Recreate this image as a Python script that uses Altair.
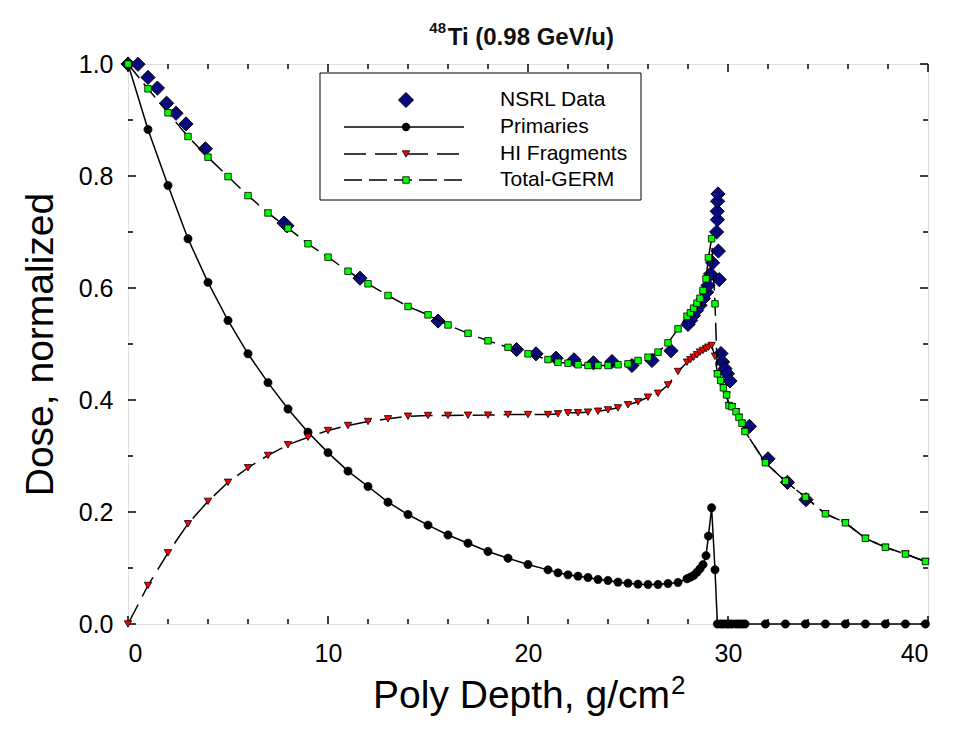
import altair as alt
import pandas as pd

# ---------------- data ----------------
depth_model = [0, 1, 2, 3, 4, 5, 6, 7, 8, 9, 10, 11, 12, 13, 14, 15, 16, 17, 18, 19, 20,
               21, 21.5, 22, 22.5, 23, 23.5, 24, 24.5, 25, 25.5, 26, 26.5, 27, 27.5,
               27.95, 28.12, 28.28, 28.45, 28.6, 28.75, 28.9, 29.02, 29.18, 29.35,
               29.47, 29.63, 29.77, 29.93, 30.05, 30.2, 30.4, 30.55, 30.7, 30.85,
               31.87, 32.87, 33.87, 34.87, 35.87, 36.87, 37.87, 38.87, 39.87]

dose_primaries = [1.0, 0.883, 0.783, 0.688, 0.61, 0.542, 0.4825, 0.431, 0.384, 0.3425, 0.306,
                  0.273, 0.2455, 0.2175, 0.1955, 0.1765, 0.159, 0.1443, 0.1295, 0.1175, 0.1063,
                  0.0967, 0.0914, 0.0878, 0.0854, 0.083, 0.0795, 0.0777, 0.0747, 0.0729, 0.0711,
                  0.0705, 0.0705, 0.0723, 0.0741,
                  0.0807, 0.0836, 0.0866, 0.0925, 0.0986, 0.106, 0.122, 0.157, 0.2075, 0.0968,
                  0, 0, 0, 0, 0, 0, 0, 0, 0, 0,
                  0, 0, 0, 0, 0, 0, 0, 0, 0]

dose_hi = [0, 0.0688, 0.127, 0.179, 0.219, 0.253, 0.279, 0.301, 0.32, 0.3336, 0.3455,
           0.3545, 0.3616, 0.3664, 0.371, 0.3723, 0.3725, 0.3728, 0.373, 0.374, 0.374,
           0.374, 0.3753, 0.3771, 0.3771, 0.3783, 0.38, 0.3824, 0.386, 0.3914, 0.397,
           0.405, 0.412, 0.4268, 0.4509,
           0.4675, 0.4718, 0.4764, 0.4807, 0.4854, 0.4884, 0.4914, 0.4943, 0.4973, 0.478,
           0.4468, 0.435, 0.4218, 0.409, 0.39, 0.388, 0.379, 0.369, 0.3586, 0.3437,
           0.288, 0.255, 0.2265, 0.1968, 0.1807, 0.153, 0.137, 0.125, 0.1116]

dose_total = [1.0, 0.9557, 0.9129, 0.8705, 0.8336, 0.799, 0.765, 0.734, 0.7068, 0.679, 0.655,
              0.63, 0.6075, 0.5866, 0.567, 0.552, 0.534, 0.519, 0.5057, 0.494, 0.4825,
              0.4723, 0.4675, 0.4657, 0.463, 0.4616, 0.4616, 0.4616, 0.463, 0.4646, 0.4705,
              0.4764, 0.4854, 0.502, 0.527,
              0.5496, 0.5557, 0.564, 0.5729, 0.5818, 0.5955, 0.6164, 0.654, 0.688, 0.5718,
              0.4468, 0.435, 0.4218, 0.409, 0.39, 0.388, 0.379, 0.369, 0.3586, 0.3437,
              0.288, 0.255, 0.2265, 0.1968, 0.1807, 0.153, 0.137, 0.125, 0.1116]

depth_nsrl = [0, 0.5, 1.0, 1.47, 1.93, 2.4, 2.9, 3.87, 7.8, 7.95, 11.6, 15.5, 19.43, 20.4,
              21.4, 22.3, 23.27, 24.2, 25.2, 26.2, 27.15, 28.0, 28.13, 28.27, 28.43, 28.6,
              28.77, 28.93, 29.0, 29.13, 29.23, 29.43, 29.52, 29.56, 29.47, 29.46, 29.48, 29.5,
              29.65, 29.73, 29.85, 29.97, 30.1, 31.07, 32.0, 32.97, 33.9]
dose_nsrl = [1.0, 0.9995, 0.976, 0.957, 0.93, 0.912, 0.893, 0.8486, 0.716, 0.711, 0.6175, 0.541,
             0.49, 0.4825, 0.4746, 0.4718, 0.4664, 0.4687, 0.4616, 0.4705, 0.488, 0.535, 0.542,
             0.551, 0.56, 0.569, 0.581, 0.5925, 0.6045, 0.625, 0.645, 0.700, 0.666, 0.615,
             0.722, 0.737, 0.755, 0.768,
             0.483, 0.468, 0.456, 0.447, 0.434, 0.353, 0.295, 0.253, 0.222]

legend_labels = ["NSRL Data", "Primaries", "HI Fragments", "Total-GERM"]

x_major = [0, 10, 20, 30, 40]
x_minor = [2, 4, 6, 8, 12, 14, 16, 18, 22, 24, 26, 28, 32, 34, 36, 38]
y_major = [0.0, 0.2, 0.4, 0.6, 0.8, 1.0]
y_minor = [0.1, 0.3, 0.5, 0.7, 0.9]

# ---------------- layout ----------------
W, H = 800, 560
FONT = "Liberation Sans"
NAVY = "#0a0a80"
GREEN = "#00ff00"
RED = "#ff0000"
TXT = "#111111"

df_prim = pd.DataFrame({"x": depth_model, "y": dose_primaries, "i": range(len(depth_model))})
df_hi = pd.DataFrame({"x": depth_model, "y": dose_hi, "i": range(len(depth_model))})
df_tot = pd.DataFrame({"x": depth_model, "y": dose_total, "i": range(len(depth_model))})
df_nsrl = pd.DataFrame({"x": depth_nsrl, "y": dose_nsrl})
one = pd.DataFrame({"k": [0]})

xs = alt.Scale(domain=[0, 40], nice=False, zero=False)
ys = alt.Scale(domain=[0, 1], nice=False, zero=False)


def X(axis=None):
    return alt.X("x:Q", scale=xs, axis=axis)


def Y(axis=None):
    return alt.Y("y:Q", scale=ys, axis=axis)


main_x_axis = alt.Axis(values=x_major, format="d", ticks=False, tickSize=0, domain=False, grid=False,
                       labelFont=FONT, labelFontSize=25, labelColor="black",
                       labelBaseline="alphabetic", labelPadding=37, title=None)
main_y_axis = alt.Axis(values=y_major, format=".1f", ticks=False, tickSize=0, domain=False, grid=False,
                       labelFont=FONT, labelFontSize=25, labelColor="black", labelPadding=15,
                       title="Dose, normalized", titleFont=FONT, titleFontSize=39,
                       titleFontWeight="normal", titleColor="black",
                       titleX=-76, titleY=H / 2, titleBaseline="alphabetic", titleAlign="center",
                       titleAngle=270)

layers = []

# first layer carries the axes (invisible points)
layers.append(alt.Chart(df_prim).mark_point(opacity=0)
              .encode(x=X(main_x_axis), y=Y(main_y_axis)))

# inward ticks on all four sides, placed through the scales
for vals, size in [(x_major, 8), (x_minor, 5)]:
    dft = pd.DataFrame({"x": vals})
    layers.append(alt.Chart(dft).mark_rule(color="black", strokeWidth=1.5)
                  .encode(x=X(), y=alt.value(H), y2=alt.value(H - size)))
    layers.append(alt.Chart(dft).mark_rule(color="black", strokeWidth=1.5)
                  .encode(x=X(), y=alt.value(0), y2=alt.value(size)))
for vals, size in [(y_major, 8), (y_minor, 5)]:
    dft = pd.DataFrame({"y": vals})
    layers.append(alt.Chart(dft).mark_rule(color="black", strokeWidth=1.5)
                  .encode(y=Y(), x=alt.value(0), x2=alt.value(size)))
    layers.append(alt.Chart(dft).mark_rule(color="black", strokeWidth=1.5)
                  .encode(y=Y(), x=alt.value(W), x2=alt.value(W - size)))

# NSRL data diamonds
layers.append(
    alt.Chart(df_nsrl).mark_point(shape="diamond", filled=True, size=200, fill=NAVY,
                                  stroke="black", strokeWidth=1, opacity=1, clip=False)
    .encode(x=X(), y=Y())
)

# Primaries
layers.append(alt.Chart(df_prim).mark_line(color="black", strokeWidth=1.5, clip=False)
              .encode(x=X(), y=Y(), order="i:Q"))
layers.append(alt.Chart(df_prim).mark_point(shape="circle", filled=True, size=70, fill="black",
                                            stroke="black", strokeWidth=0.5, opacity=1, clip=False)
              .encode(x=X(), y=Y()))
# HI Fragments
layers.append(alt.Chart(df_hi).mark_line(color="black", strokeWidth=1.5, strokeDash=[22, 9], clip=False)
              .encode(x=X(), y=Y(), order="i:Q"))
layers.append(alt.Chart(df_hi).mark_point(shape="triangle-down", filled=True, size=55, fill=RED,
                                          stroke="black", strokeWidth=0.8, opacity=1, clip=False)
              .encode(x=X(), y=Y()))
# Total-GERM
layers.append(alt.Chart(df_tot).mark_line(color="black", strokeWidth=1.5, strokeDash=[18, 7], clip=False)
              .encode(x=X(), y=Y(), order="i:Q"))
layers.append(alt.Chart(df_tot).mark_point(shape="square", filled=True, size=42, fill=GREEN,
                                           stroke="black", strokeWidth=0.8, opacity=1, clip=False)
              .encode(x=X(), y=Y()))

# ---------------- legend (manual box) ----------------
LX0, LY0, LX1, LY1 = 192, 9, 513, 136
row_y = [36, 63, 90, 116]
sx0, sx1, smid, tx = 216, 336, 278, 372

layers.append(alt.Chart(one).mark_rect(fill="white", stroke="black", strokeWidth=1)
              .encode(x=alt.value(LX0), x2=alt.value(LX1), y=alt.value(LY0), y2=alt.value(LY1)))
layers.append(alt.Chart(one).mark_rule(color="black", strokeWidth=1.5)
              .encode(x=alt.value(sx0), x2=alt.value(sx1), y=alt.value(row_y[1])))
layers.append(alt.Chart(one).mark_rule(color="black", strokeWidth=1.5, strokeDash=[22, 9])
              .encode(x=alt.value(sx0), x2=alt.value(sx1), y=alt.value(row_y[2])))
layers.append(alt.Chart(one).mark_rule(color="black", strokeWidth=1.5, strokeDash=[18, 7])
              .encode(x=alt.value(sx0), x2=alt.value(sx1), y=alt.value(row_y[3])))
layers.append(alt.Chart(one).mark_point(shape="diamond", filled=True, size=225, fill=NAVY,
                                        stroke="black", strokeWidth=1, opacity=1)
              .encode(x=alt.value(smid), y=alt.value(row_y[0])))
layers.append(alt.Chart(one).mark_point(shape="circle", filled=True, size=70, fill="black", opacity=1)
              .encode(x=alt.value(smid), y=alt.value(row_y[1])))
layers.append(alt.Chart(one).mark_point(shape="triangle-down", filled=True, size=55, fill=RED,
                                        stroke="black", strokeWidth=0.8, opacity=1)
              .encode(x=alt.value(smid), y=alt.value(row_y[2])))
layers.append(alt.Chart(one).mark_point(shape="square", filled=True, size=42, fill=GREEN,
                                        stroke="black", strokeWidth=0.8, opacity=1)
              .encode(x=alt.value(smid), y=alt.value(row_y[3])))
for lab, yy in zip(legend_labels, row_y):
    layers.append(alt.Chart(one).mark_text(text=lab, font=FONT, fontSize=21, align="left",
                                           baseline="middle", color="black")
                  .encode(x=alt.value(tx), y=alt.value(yy)))

# ---------------- x-axis title with superscript (y relative to plot top) ----------------
layers.append(alt.Chart(one).mark_text(text="Poly Depth, g/cm", font=FONT, fontSize=39,
                                       align="right", baseline="alphabetic", color="black")
              .encode(x=alt.value(542), y=alt.value(644)))
layers.append(alt.Chart(one).mark_text(text="2", font=FONT, fontSize=26,
                                       align="left", baseline="alphabetic", color="black")
              .encode(x=alt.value(543), y=alt.value(630)))

# ---------------- title with superscript ----------------
layers.append(alt.Chart(one).mark_text(text="Ti (0.98 GeV/u)", font=FONT, fontSize=24,
                                       fontWeight="bold", align="right", baseline="alphabetic",
                                       color=TXT)
              .encode(x=alt.value(486), y=alt.value(-19)))
layers.append(alt.Chart(one).mark_text(text="48", font=FONT, fontSize=15, fontWeight="bold",
                                       align="right", baseline="alphabetic", color=TXT)
              .encode(x=alt.value(318), y=alt.value(-31)))

chart = (
    alt.layer(*layers)
    .resolve_axis(x="independent", y="independent")
    .properties(width=W, height=H,
                autosize=alt.AutoSizeParams(type="none"),
                padding={"left": 128, "top": 64, "right": 30, "bottom": 112})
    .configure_view(stroke="black", strokeWidth=2)
    .configure(background="white")
)

chart.save("out.html", embed_options={"renderer": "svg", "actions": False})
